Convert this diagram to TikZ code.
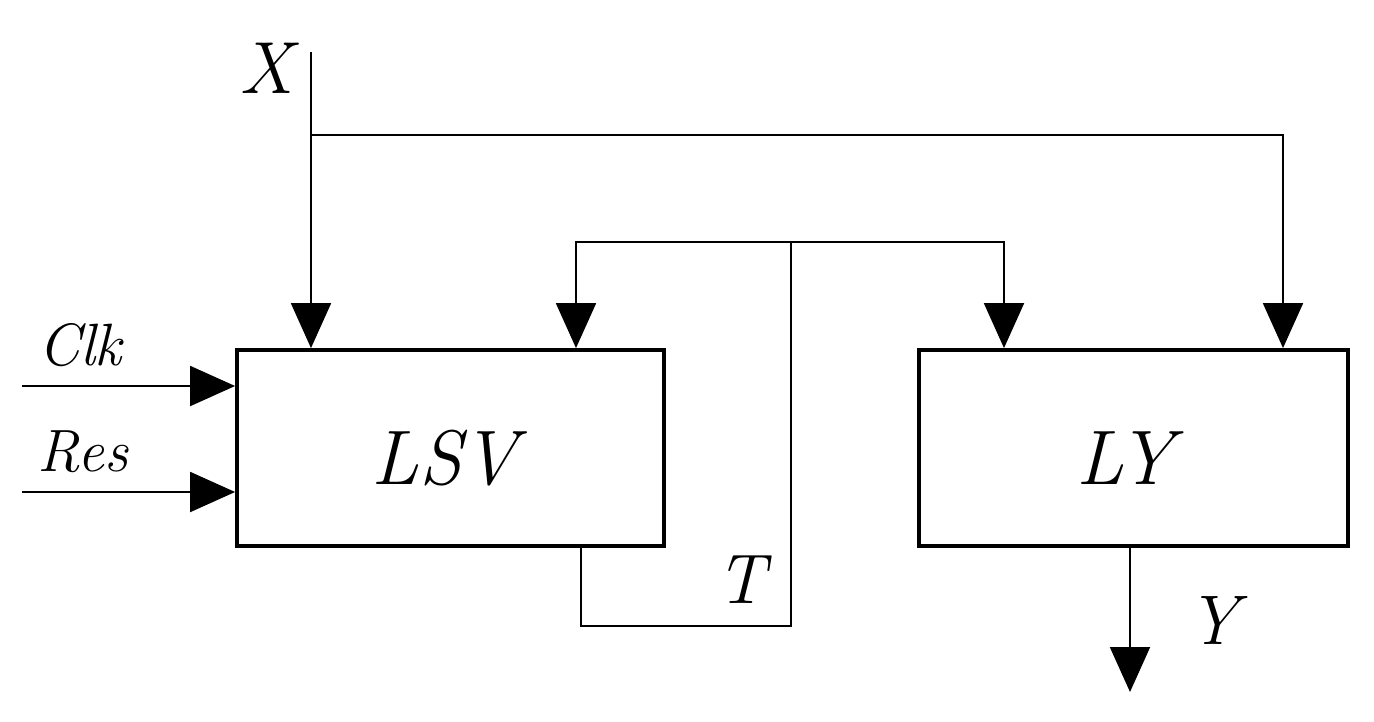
\documentclass[tikz,border=0pt]{standalone}
\usetikzlibrary{arrows.meta}
\begin{document}
\begin{tikzpicture}[x=0.02cm,y=-0.02cm,
  wire/.style={line width=1.1pt,-{Triangle[length=0.9cm,width=0.8cm]}},
  plain/.style={line width=1.1pt},
  box/.style={draw,line width=2.2pt,inner sep=0pt},
  lab/.style={font=\fontsize{34}{36}\selectfont\itshape},
  big/.style={font=\fontsize{44}{48}\selectfont\itshape}]
\useasboundingbox (0,0) rectangle (1374,721);
\node[box,minimum width=8.54cm,minimum height=3.92cm] (lsv) at (450.5,448) {};
\node[big] at (445,458) {LSV};
\node[box,minimum width=8.58cm,minimum height=3.92cm] (ly) at (1133.5,448) {};
\node[big] at (1125,458) {LY};
\coordinate (xt) at (311,52);
\coordinate (xb) at (311,135);
\coordinate (xr) at (1283,135);
\coordinate (tb1) at (581,548);
\coordinate (tb2) at (581,626);
\coordinate (tb3) at (791,626);
\coordinate (tt) at (791,242);
\coordinate (tl) at (576,242);
\coordinate (tr) at (1004,242);
\draw[wire] (xt) -- (lsv.north -| xt);
\draw[wire] (xb) -- (xr) -- (lsv.north -| xr);
\draw[plain] (tb1) -- (tb2) -- (tb3) -- (tt);
\draw[wire] (tt) -- (tl) -- (lsv.north -| tl);
\draw[wire] (tt) -- (tr) -- (ly.north -| tr);
\coordinate (c) at (22,386);
\coordinate (r) at (22,492);
\draw[wire] (c) -- (c -| lsv.west);
\draw[wire] (r) -- (r -| lsv.west);
\coordinate (yb) at (1130,692);
\draw[wire] (ly.south -| yb) -- (yb);
\node[font=\fontsize{42}{44}\selectfont\itshape] at (266,68) {X};
\node[lab] at (80,345) {Clk};
\node[lab] at (83,452) {Res};
\node[font=\fontsize{40}{44}\selectfont\itshape] at (741,580) {T};
\node[font=\fontsize{40}{44}\selectfont\itshape] at (1213,620) {Y};
\end{tikzpicture}
\end{document}
